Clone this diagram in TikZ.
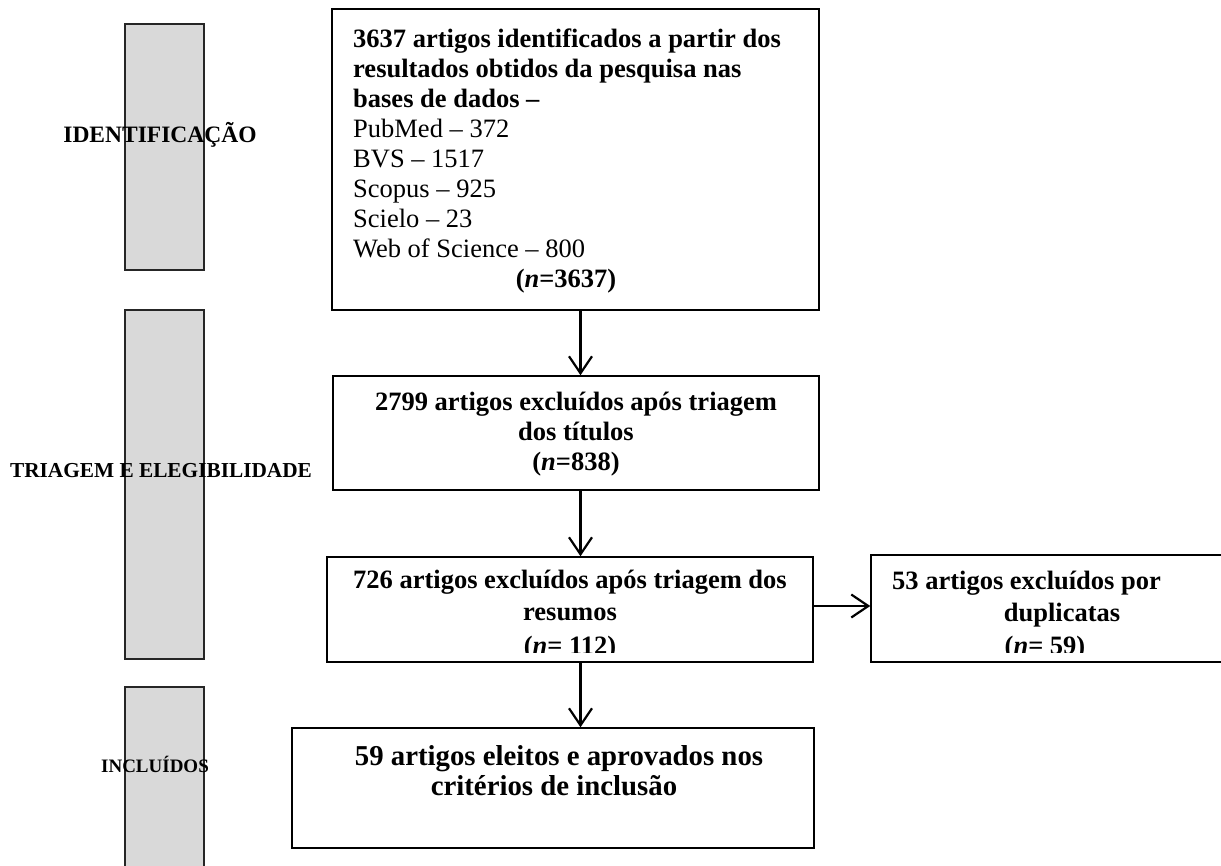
\documentclass[tikz,border=0pt]{standalone}
\usepackage{fontspec}
\setmainfont{Liberation Serif}
\newfontfamily\bxf{Liberation Serif}
\usetikzlibrary{arrows.meta}
\definecolor{barg}{HTML}{D9D9D9}
\begin{document}
\begin{tikzpicture}[x=1pt,y=-1pt,
  bar/.style={draw=black!85, fill=barg, line width=1.3pt, inner sep=0pt},
  box/.style={draw=black, line width=1.5pt, inner sep=0pt},
  lbl/.style={font=\bfseries\fontsize{#1}{#1}\selectfont, inner sep=0pt, anchor=base},
  tx/.style={font=\bxf\fontsize{26.5}{29}\selectfont, inner sep=0pt, anchor=base west},
  tc/.style={font=\bxf\fontsize{26.5}{29}\selectfont, inner sep=0pt, anchor=base},
  tb/.style={font=\bxf\fontsize{28.8}{32}\selectfont, inner sep=0pt, anchor=base},
  arr/.style={line width=2.2pt, -{Straight Barb[length=17pt,width=23pt,line width=2.2pt]}}]
\useasboundingbox (0,0) rectangle (1221,865);
\clip (0,0) rectangle (1221,865);

% grey phase bars
\node[bar, minimum width=79, minimum height=246] (g1) at (164.5,147) {};
\node[bar, minimum width=79, minimum height=349] (g2) at (164.5,484.5) {};
\node[bar, minimum width=79, minimum height=193] (g3) at (164.5,783.5) {};
\node[lbl=23.5] (l1) at (160,142) {IDENTIFICAÇÃO};
\node[lbl=21.3] (l2) at (161,477) {TRIAGEM E ELEGIBILIDADE};
\node[lbl=19] (l3) at (155,772) {INCLUÍDOS};

% boxes
\node[box, line width=1.8pt, minimum width=487, minimum height=301] (b1) at (575.5,159.5) {};
\node[box, minimum width=486, minimum height=114] (b2) at (576,433) {};
\node[box, minimum width=486, minimum height=105] (b3) at (570,609.5) {};
\node[box, minimum width=359, minimum height=107] (b5) at (1050.5,608.5) {};
\node[box, minimum width=522, minimum height=120] (b4) at (553,788) {};

% box 1 text
\node[tx] (t11) at (353,47) {\bfseries 3637 artigos identificados a partir dos};
\node[tx] (t12) at (353,77) {\bfseries resultados obtidos da pesquisa nas};
\node[tx] (t13) at (353,107) {\bfseries bases de dados –};
\node[tx] (t14) at (353,137) {PubMed – 372};
\node[tx] (t15) at (353,167) {BVS – 1517};
\node[tx] (t16) at (353,197) {Scopus – 925};
\node[tx] (t17) at (353,227) {Scielo – 23};
\node[tx] (t18) at (353,257) {Web of Science – 800};
\node[tc] (t19) at (566,287) {\bfseries (\textit{n}=3637)};

% box 2 text
\node[tc] (t21) at (576,410) {\bfseries 2799 artigos excluídos após triagem};
\node[tc] (t22) at (576,440) {\bfseries dos títulos};
\node[tc] (t23) at (576,470) {\bfseries (\textit{n}=838)};

% box 3 text
\node[tc] (t31) at (570,588) {\bfseries 726 artigos excluídos após triagem dos};
\node[tc] (t32) at (570,620) {\bfseries resumos};
% right box text
\node[tx] (t51) at (892,589) {\bfseries 53 artigos excluídos por};
\node[tc] (t52) at (1062,621) {\bfseries duplicatas};
\begin{scope}
\clip (0,0) rectangle (1221,652);
\node[tc] (t33) at (570,654) {\bfseries (\textit{n}= 112)};
\node[tc] (t53) at (1045,654) {\bfseries (\textit{n}= 59)};
\end{scope}

% box 4 text
\node[tb] (t41) at (559,765) {\bfseries 59 artigos eleitos e aprovados nos};
\node[tb] (t42) at (554,795) {\bfseries critérios de inclusão};

% connectors
\coordinate (ax) at (580.5,0);
\coordinate (ay) at (0,606);
\draw[arr] (b1.south -| ax) -- (b2.north -| ax);
\draw[arr] (b2.south -| ax) -- (b3.north -| ax);
\draw[arr] (b3.south -| ax) -- (b4.north -| ax);
\draw[arr] (b3.east |- ay) -- (b5.west |- ay);
\end{tikzpicture}
\end{document}
